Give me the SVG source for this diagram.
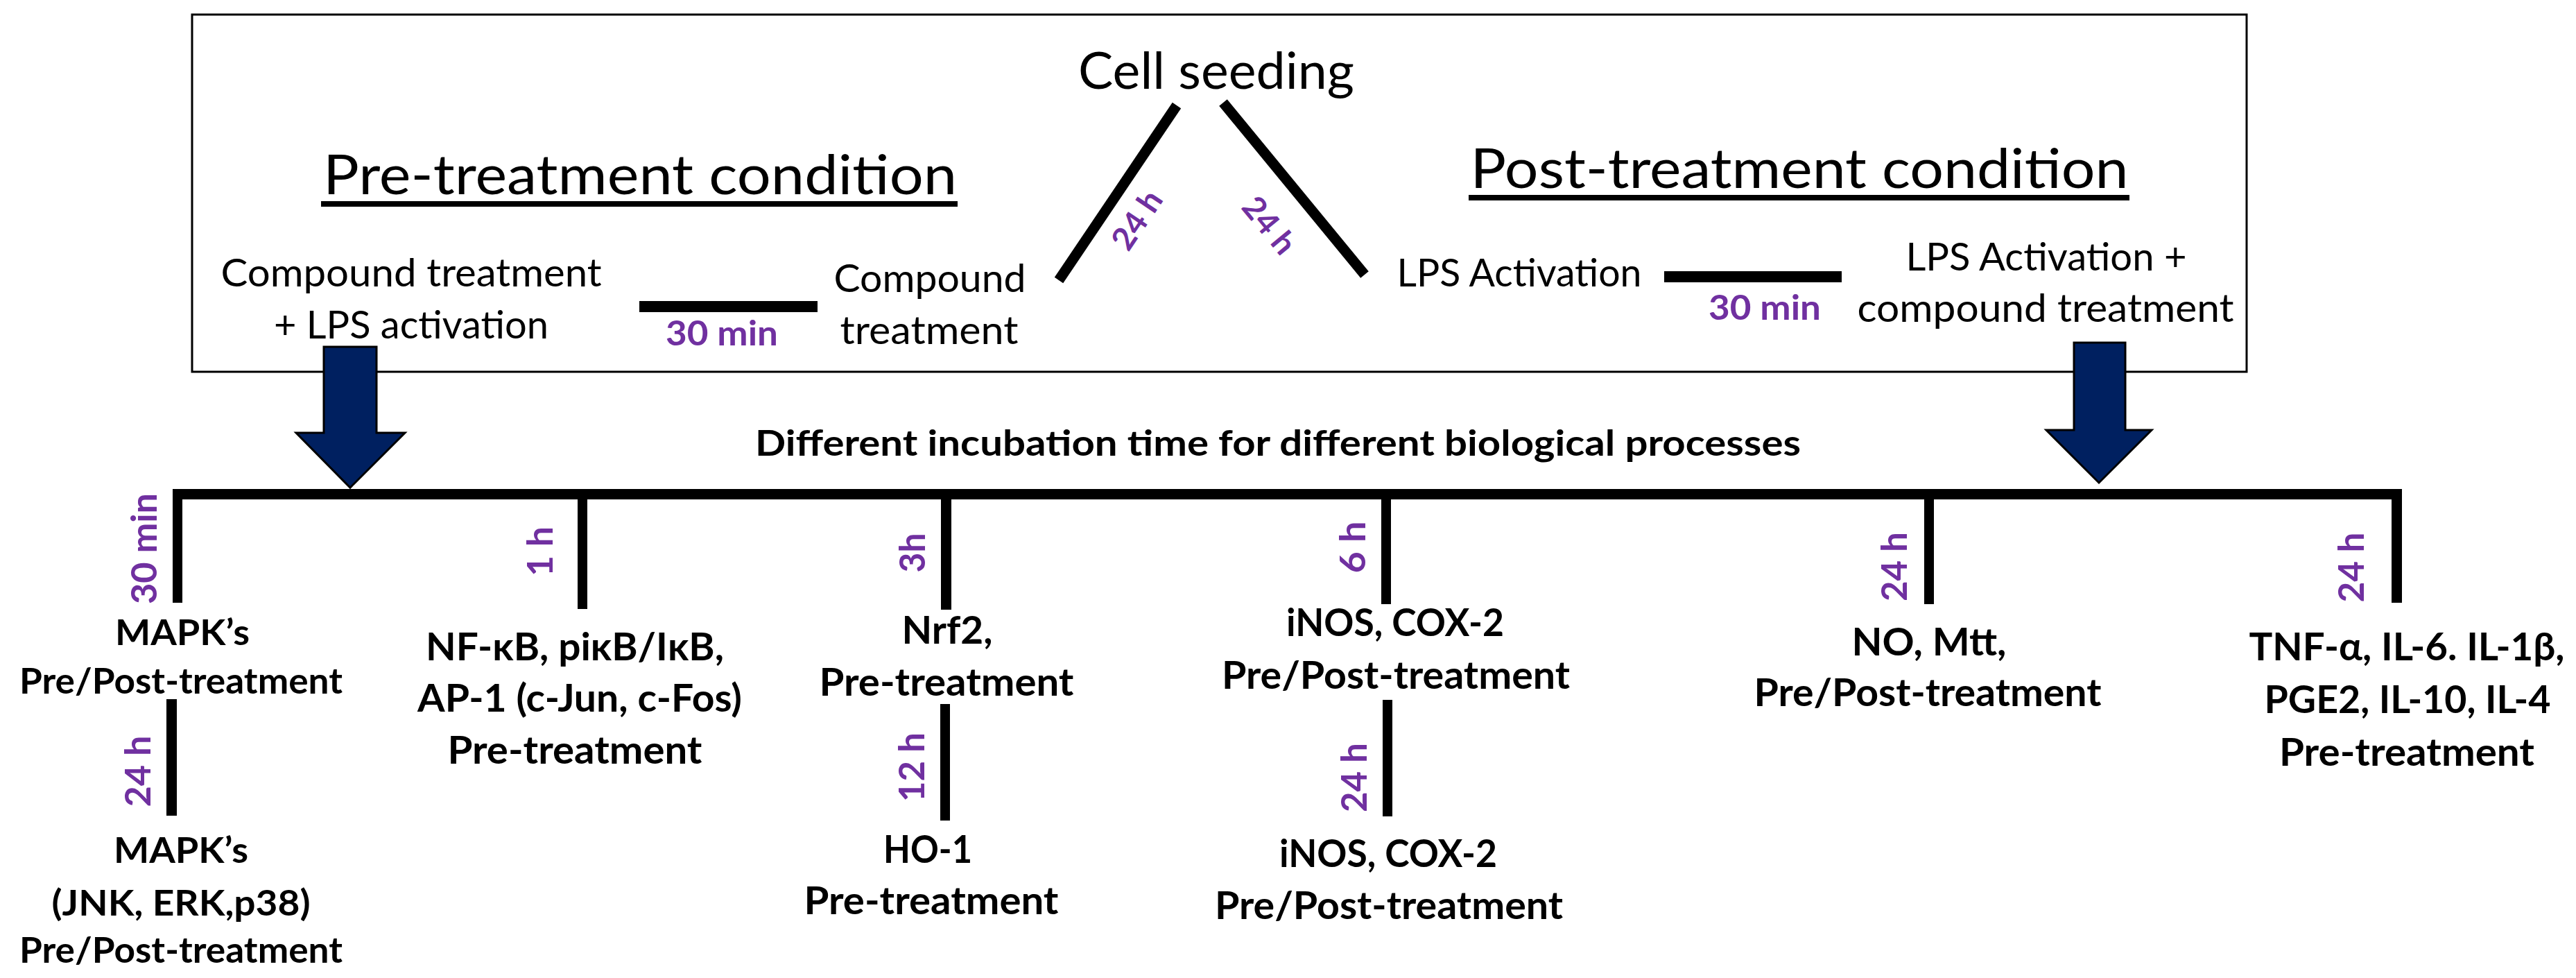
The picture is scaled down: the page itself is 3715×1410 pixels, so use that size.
<svg xmlns="http://www.w3.org/2000/svg" width="3715" height="1410" viewBox="0 0 3715 1410">
<style>
text{font-family:Lato,"Liberation Sans",sans-serif;fill:#000}
.r{font-weight:400}
.b{font-weight:700}
.p{fill:#7030A0;font-weight:700}
.m{text-anchor:middle}
.ln{stroke:#000;stroke-width:15;stroke-linecap:butt;fill:none}
.arr{fill:#002060;stroke:#000;stroke-width:3}
</style>
<rect width="3715" height="1410" fill="#fff"/>
<rect id="frame" x="277" y="21" width="2963" height="515" fill="none" stroke="#000" stroke-width="3"/>

<g id="connectors">
  <line class="ln" x1="1527" y1="404" x2="1697" y2="152"/>
  <line class="ln" x1="1764" y1="148" x2="1968" y2="396"/>
  <rect x="922" y="434" width="257" height="16"/>
  <rect x="2400" y="391" width="256" height="16"/>
  <polygon class="arr" points="467,500 543,500 543,624 584,624 505,703 427,624 467,624"/>
  <polygon class="arr" points="2991,494 3065,494 3065,620 3103,620 3027,696 2951,620 2991,620"/>
  <rect x="249" y="705" width="3215" height="15"/>
  <rect x="249" y="705" width="14" height="164"/>
  <rect x="833" y="705" width="14" height="173"/>
  <rect x="1357" y="705" width="15" height="174"/>
  <rect x="1992" y="705" width="14" height="166"/>
  <rect x="2775" y="705" width="14" height="166"/>
  <rect x="3449" y="705" width="15" height="164"/>
  <rect x="240" y="1008" width="15" height="168"/>
  <rect x="1356" y="1015" width="14" height="168"/>
  <rect x="1994" y="1009" width="14" height="168"/>
  <text class="p m" font-size="46" transform="translate(1653,326) rotate(-56)" textLength="92" lengthAdjust="spacingAndGlyphs">24 h</text>
  <text class="p m" font-size="46" transform="translate(1818,335) rotate(50.6)" textLength="92" lengthAdjust="spacingAndGlyphs">24 h</text>
  <text class="p m" font-size="50" x="1041" y="498" textLength="162" lengthAdjust="spacingAndGlyphs">30 min</text>
  <text class="p m" font-size="50" x="2545" y="461" textLength="162" lengthAdjust="spacingAndGlyphs">30 min</text>
  <text class="p m" font-size="52" transform="translate(226,791) rotate(-90)" textLength="160" lengthAdjust="spacingAndGlyphs">30 min</text>
  <text class="p m" font-size="52" transform="translate(797,795) rotate(-90)" textLength="72" lengthAdjust="spacingAndGlyphs">1 h</text>
  <text class="p m" font-size="52" transform="translate(217,1112) rotate(-90)" textLength="103" lengthAdjust="spacingAndGlyphs">24 h</text>
  <text class="p m" font-size="52" transform="translate(1334,797) rotate(-90)" textLength="57" lengthAdjust="spacingAndGlyphs">3h</text>
  <text class="p m" font-size="52" transform="translate(1333,1106) rotate(-90)" textLength="100" lengthAdjust="spacingAndGlyphs">12 h</text>
  <text class="p m" font-size="52" transform="translate(1969,789) rotate(-90)" textLength="75" lengthAdjust="spacingAndGlyphs">6 h</text>
  <text class="p m" font-size="52" transform="translate(1971,1121) rotate(-90)" textLength="100" lengthAdjust="spacingAndGlyphs">24 h</text>
  <text class="p m" font-size="52" transform="translate(2750,817) rotate(-90)" textLength="100" lengthAdjust="spacingAndGlyphs">24 h</text>
  <text class="p m" font-size="52" transform="translate(3409,818) rotate(-90)" textLength="101" lengthAdjust="spacingAndGlyphs">24 h</text>
</g>

<g id="cell-seeding">
  <text class="r m" font-size="73" x="1754" y="128" textLength="398" lengthAdjust="spacingAndGlyphs">Cell seeding</text>
</g>
<g id="pre-condition">
  <text class="r m" font-size="80" x="923" y="280" textLength="914" lengthAdjust="spacingAndGlyphs">Pre-treatment condition</text>
  <rect x="463" y="290" width="918" height="8"/>
</g>
<g id="post-condition">
  <text class="r m" font-size="80" x="2595" y="271" textLength="949" lengthAdjust="spacingAndGlyphs">Post-treatment condition</text>
  <rect x="2118" y="281" width="953" height="8"/>
</g>
<g id="compound-lps">
  <text class="r m" font-size="56" x="593" y="413" textLength="549" lengthAdjust="spacingAndGlyphs">Compound treatment</text>
  <text class="r m" font-size="56" x="593" y="488" textLength="396" lengthAdjust="spacingAndGlyphs">+ LPS activation</text>
</g>
<g id="compound">
  <text class="r m" font-size="56" x="1341" y="421" textLength="277" lengthAdjust="spacingAndGlyphs">Compound</text>
  <text class="r m" font-size="56" x="1340" y="496" textLength="257" lengthAdjust="spacingAndGlyphs">treatment</text>
</g>
<g id="lps">
  <text class="r m" font-size="56" x="2191" y="413" textLength="353" lengthAdjust="spacingAndGlyphs">LPS Activation</text>
</g>
<g id="lps-compound">
  <text class="r m" font-size="56" x="2951" y="390" textLength="405" lengthAdjust="spacingAndGlyphs">LPS Activation +</text>
  <text class="r m" font-size="56" x="2950" y="464" textLength="543" lengthAdjust="spacingAndGlyphs">compound treatment</text>
</g>
<g id="title">
  <text class="b m" font-size="52" x="1843" y="657" textLength="1508" lengthAdjust="spacingAndGlyphs">Different incubation time for different biological processes</text>
</g>

<g id="mapk-30">
  <text class="b m" font-size="52" x="263" y="930" textLength="194" lengthAdjust="spacingAndGlyphs">MAPK’s</text>
  <text class="b m" font-size="52" x="261" y="1000" textLength="466" lengthAdjust="spacingAndGlyphs">Pre/Post-treatment</text>
</g>
<g id="mapk-24">
  <text class="b m" font-size="52" x="261" y="1244" textLength="194" lengthAdjust="spacingAndGlyphs">MAPK’s</text>
  <text class="b m" font-size="52" x="261" y="1320" textLength="373" lengthAdjust="spacingAndGlyphs">(JNK, ERK,p38)</text>
  <text class="b m" font-size="52" x="261" y="1388" textLength="466" lengthAdjust="spacingAndGlyphs">Pre/Post-treatment</text>
</g>
<g id="nfkb">
  <text class="b m" font-size="55" x="829" y="952" textLength="430" lengthAdjust="spacingAndGlyphs">NF-κB, piκB/IκB,</text>
  <text class="b m" font-size="55" x="836" y="1026" textLength="468" lengthAdjust="spacingAndGlyphs">AP-1 (c-Jun, c-Fos)</text>
  <text class="b m" font-size="55" x="829" y="1101" textLength="367" lengthAdjust="spacingAndGlyphs">Pre-treatment</text>
</g>
<g id="nrf2">
  <text class="b m" font-size="55" x="1366" y="928" textLength="131" lengthAdjust="spacingAndGlyphs">Nrf2,</text>
  <text class="b m" font-size="55" x="1365" y="1003" textLength="367" lengthAdjust="spacingAndGlyphs">Pre-treatment</text>
</g>
<g id="ho1">
  <text class="b m" font-size="55" x="1338" y="1244" textLength="128" lengthAdjust="spacingAndGlyphs">HO-1</text>
  <text class="b m" font-size="55" x="1343" y="1318" textLength="367" lengthAdjust="spacingAndGlyphs">Pre-treatment</text>
</g>
<g id="inos-6">
  <text class="b m" font-size="55" x="2012" y="917" textLength="314" lengthAdjust="spacingAndGlyphs">iNOS, COX-2</text>
  <text class="b m" font-size="55" x="2013" y="993" textLength="502" lengthAdjust="spacingAndGlyphs">Pre/Post-treatment</text>
</g>
<g id="inos-24">
  <text class="b m" font-size="55" x="2002" y="1250" textLength="314" lengthAdjust="spacingAndGlyphs">iNOS, COX-2</text>
  <text class="b m" font-size="55" x="2003" y="1325" textLength="502" lengthAdjust="spacingAndGlyphs">Pre/Post-treatment</text>
</g>
<g id="no-mtt">
  <text class="b m" font-size="55" x="2782" y="945" textLength="223" lengthAdjust="spacingAndGlyphs">NO, Mtt,</text>
  <text class="b m" font-size="55" x="2780" y="1018" textLength="501" lengthAdjust="spacingAndGlyphs">Pre/Post-treatment</text>
</g>
<g id="cytokines">
  <text class="b m" font-size="55" x="3471" y="952" textLength="455" lengthAdjust="spacingAndGlyphs">TNF-α, IL-6. IL-1β,</text>
  <text class="b m" font-size="55" x="3472" y="1028" textLength="413" lengthAdjust="spacingAndGlyphs">PGE2, IL-10, IL-4</text>
  <text class="b m" font-size="55" x="3471" y="1104" textLength="368" lengthAdjust="spacingAndGlyphs">Pre-treatment</text>
</g>
</svg>
